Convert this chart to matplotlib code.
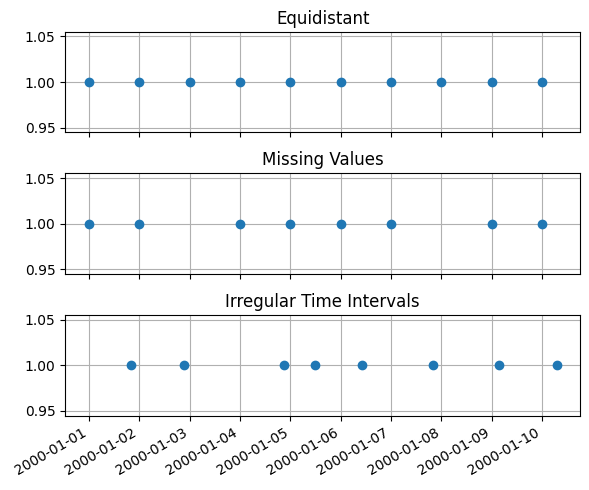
import matplotlib.pyplot as plt
import numpy as np
import pandas as pd

# Equidistant daily timestamps
dates_equi = pd.date_range('2000-01-01', periods=10, freq='D')
values_equi = [1.0] * 10

# Missing values: days 3 and 8 dropped
dates_missing = pd.to_datetime(['2000-01-01', '2000-01-02', '2000-01-04', '2000-01-05',
                                '2000-01-06', '2000-01-07', '2000-01-09', '2000-01-10'])
values_missing = [1.0] * 8

# Irregular time intervals (hours after 2000-01-01 00:00)
hours_irregular = [20, 45.4, 93, 107.8, 130.1, 164.1, 195.3, 223]
dates_irregular = pd.Timestamp('2000-01-01') + pd.to_timedelta(hours_irregular, unit='h')
values_irregular = [1.0] * 8

fig, axes = plt.subplots(3, 1, figsize=(5.89, 4.9), sharex=True)

axes[0].plot(dates_equi, values_equi, 'o', linestyle='none')
axes[0].set_title('Equidistant')

axes[1].plot(dates_missing, values_missing, 'o', linestyle='none')
axes[1].set_title('Missing Values')

axes[2].plot(dates_irregular, values_irregular, 'o', linestyle='none')
axes[2].set_title('Irregular Time Intervals')

for ax in axes:
    ax.set_xticks(dates_equi)
    ax.grid(True)

fig.autofmt_xdate()
fig.subplots_adjust(left=0.111, right=0.985, top=0.935, bottom=0.152, hspace=0.41)
plt.savefig('out.png', dpi=100)
